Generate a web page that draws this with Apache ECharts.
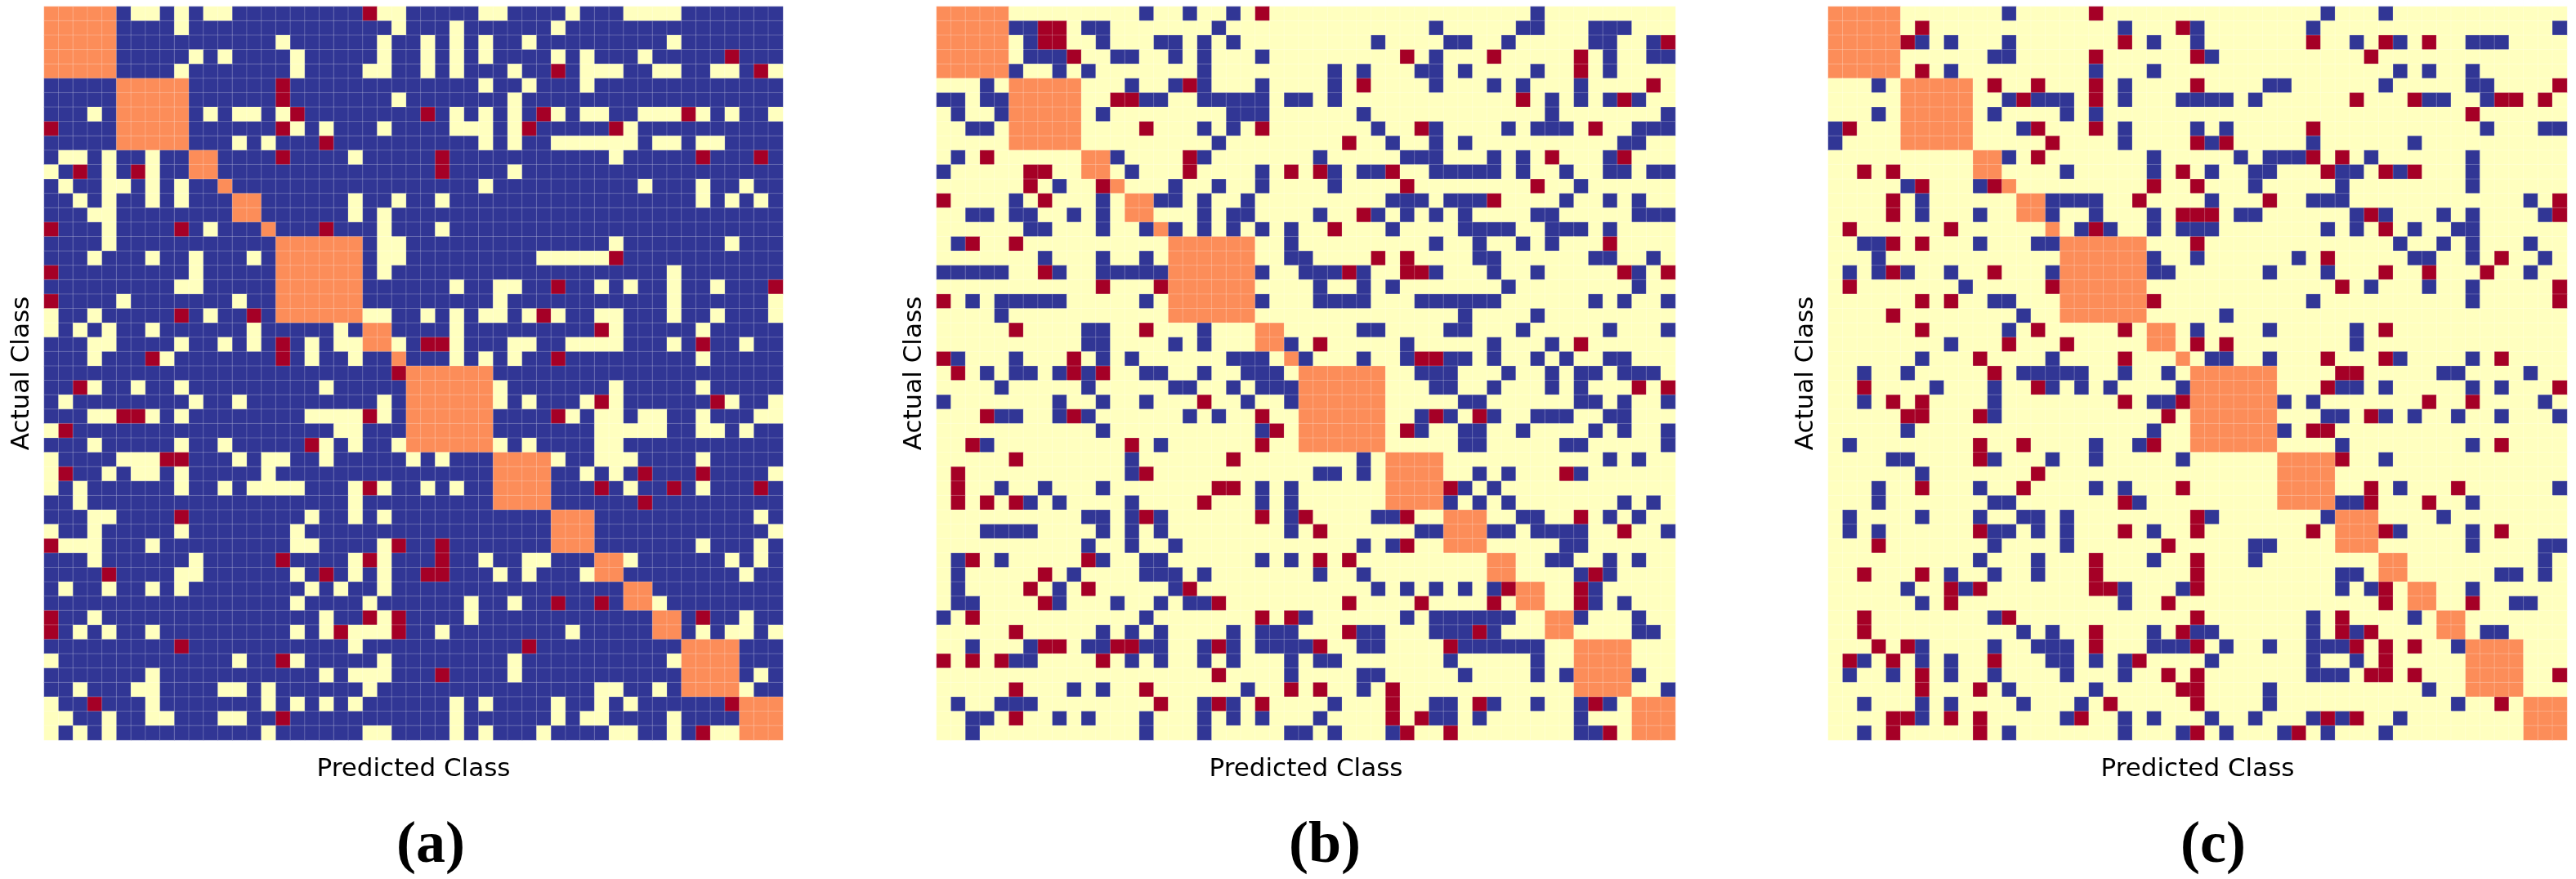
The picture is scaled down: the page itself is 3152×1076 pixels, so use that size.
<!DOCTYPE html>
<html><head><meta charset="utf-8">
<style>html,body{margin:0;padding:0;background:#fff}#c{width:3152px;height:1076px}</style>
<script src="https://cdn.jsdelivr.net/npm/echarts@6/dist/echarts.min.js"></script></head>
<body><div id="c"></div><script>
const blockSizes=[5,5,2,1,2,1,6,2,1,6,4,3,2,2,2,4,3];
const panelLetters=['a','b','c'];
const aYellow=[
[6,7,9,11,12,23,24,30,31,36,40,41,42,43],
[9,24,28,35],
[16,23,26,28,30,33,43],
[10,12,17,23,26,28,30,35,37,41],
[9,17,22,23,26,28,32,37,38,39,42,43,46,47,50],
[30,33,37],
[24,32],
[3,11,13,14,16,28,30,32,35,37,38,41,42,43,45,47,50],
[17,19,23,28,29,30,32,40],
[13,15,30,32,35,36,37,38,39,40,42,43,45,46],
[1,2,4,7,21,39],
[0,4,7,32],
[1,4,5,7,9,30,41,45,48],
[2,4,7,9,21,24,27,45,47,49],
[3,4,21,23],
[4,11,23,27],
[4,23,24,39,47],
[3,7,10,14,23,24,34,35,36,37,38],
[10,23,43],
[9,10,28,31,32,38,40,43,46],
[5,13,31,43,50],
[0,3,11,22,23,26,28,30,31,33,35,38,39,43,46,50],
[0,2,4,7,14,20,28,39,45],
[3,4,9,12,14,18,20,21,24,28,32,33,36,37,38,39,43,48],
[3,8,18,21,28,30,32,45],
[],
[3,6,9,19,31,39,45],
[1,10,13,23,31,33,37,39,47,50],
[3,4,7,9,18,19,20,21,23,36,38,39,41,42,45,49,50],
[0,20,21,38,39,40,41,42,45,46,48],
[3,9,12,19,21,24,31,33,38,39],
[0,5,6,7,13,15,16,19,25,27,35,38,39,40,45],
[0,4,6,7,9,15,37,39,50],
[0,2,9,12,14,15,16,17,21,23,26,28,40,45],
[2,21],
[3,4,18,21,23,49],
[0,3,9,17,50],
[1,2,3,7,17,18,23,45,49],
[3,10,21,23,30,33,34,40,47,49],
[9,10,17,21,23,31,33,37,48],
[1,4,7,9,18,20,23],
[17,22,29,32,42],
[3,19,23,29,48],
[2,4,7,17,19,21,22,23,27,36,45,47,48,50],
[21],
[0,13,17,23,32,43],
[7,19,21,22,23,32,49],
[2,6,7,12,13,15,22,38,39,42,48],
[0,7,15,17,19,21,28,30,35,38,40],
[0,1,4,7,8,12,13,28,35,37,38,43],
[0,2,4,15,22,23,28,30,34,39,40,43,46,47]];
const aRed=[
[22],[],[],[47],[35,49],[16],[16],[17,26,34,44],[0,16,33,39],[19],
[16,27,45,49],[2,6,27],[],[],[],[0,9,19],[],[39],[0],[35,50],
[0],[9,14,34],[38],[16,26,27,45],[7,16,35],[24],[2],[38,46],[5,6,22,35],[1],
[18],[8,9],[1,41,45],[22,38,43,49],[41],[9],[],[0,24,27],[16,22,27],[4,19,26,27],
[],[35,38],[0,22,24,45],[0,20,24],[9,33],[16],[27],[],[3,47],[16],[45]];
const bBlue=[
[14,17,20,41],
[5,6,10,11,19,34,40,41,45,46,47],
[6,11,15,16,18,20,30,35,36,39,45,46,49],
[6,7,8,12,13,16,18,22,34,46,49,50],
[5,8,10,18,27,29,33,34,36,41,46],
[3,13,16,18,22,27,34,38,40,44],
[0,1,3,4,14,15,18,19,20,21,22,24,25,27,42,44,46,48],
[1,4,11,20,21,22,29,42,50],
[2,3,18,20,30,34,39,41,42,43,48,49,50],
[19,31,34,36,47,48],
[1,12,18,26,32,33,34,38,40,46],
[0,13,22,27,29,30,34,35,36,37,38,40,43,46,47,49,50],
[8,16,19,22,27,44],
[5,11,15,16,18,21,31,32,33,35,36,37,43,46,48],
[2,3,5,6,9,11,18,20,21,26,30,32,34,36,41,42,48,49,50],
[6,7,11,14,16,18,20,22,24,31,36,37,38,39,42,43,44,46],
[1,24,34,37,40,42],
[7,11,14,24,25,37,38,45,46,49],
[0,1,2,3,4,8,11,12,13,14,15,22,25,26,27,29,34,38,41,48],
[26,29,31,39,48],
[2,4,5,6,7,8,14,22,26,27,28,29,33,34,35,36,37,38,45,47,50],
[4,36,41],
[10,11,18,29,30,35,36,40,46,50],
[10,11,16,18,24,32,38,42],
[1,5,11,13,20,21,22,25,29,32,35,36,38,41,43,46,47],
[3,5,6,8,10,14,15,18,21,22,23,33,34,35,39,42,44,45,47,48,49],
[4,10,16,17,20,22,23,24,34,35,38,42,44],
[0,8,11,14,21,24,36,37,44,45,47,50],
[4,5,8,10,17,19,33,35,38,41,42,43,46,47],
[11,22,33,36,37,40,45,47,50],
[3,15,36,37,43,44,50],
[13,29,46,48],
[13,26,27,29,37,39,44],
[4,7,11,22,24,36,38],
[6,8,13,22,24,35,37,39,47,49],
[10,11,13,15,24,30,31,40,41,46,48],
[3,4,5,6,11,13,15,24,33,34,38,39,41,42,43,44,50],
[10,13,16,29,31,43,44],
[1,4,11,14,15,22,24,42,43,46,48],
[1,9,14,15,16,18,26,29,44,46],
[1,8,16,30,32,34,36,38,45],
[1,2,8,12,15,17,18,45,47],
[0,14,25,32,34,35,36,37,38,39,44,48],
[11,13,15,20,22,23,24,29,30,34,35,36,38,48,49],
[2,6,10,11,14,15,18,20,22,23,24,25,29,30,36,37,38,39,40,41],
[5,6,13,15,18,20,24,26,27,35,41],
[24,29,30,36,41,43,48],
[9,11,21,29,50],
[1,4,5,6,18,20,27,34,35,38,41,44,46],
[2,3,8,10,14,18,20,22,26,34,35,37,44],
[2,14,18,24,25,27,31,44,45]];
const bRed=[
[22],[7,8],[7,8,50],[9,32,38,44],[44],[17,29,49],[12,13,40,47],[],[14,22,33,45],[28],
[3,17,42,47],[6,7,17,24,26,31],[6,11,32,41],[0,7,38],[29],[27],[2,5,46],[30,32],[7,28,32,33,47,50],[11,15],
[0],[],[5,14],[26,44],[0,9,33,34],[1,9,11],[48,50],[18],[3,9,22,34,37],[23,32],
[2,13,22],[5,20],[1,14,43],[1,19,20,35],[1,3,5,18],[14,22,25,32,44],[26,47],[32],[2,10,26,28],[7,45],
[6,10,17,39,44],[7,19,28,33,38,44],[2,22,24],[5,28,37],[7,8,12,13,19,26,35],[0,2,4,11],[19],[5,14,24,26,31],[15,19,22,31,37,45],[5,31,33],[32,35,46]];
const cBlue=[
[12,34,38],
[20,25,33,50],
[6,8,12,22,25,36,39,44,45,46],
[11,12,26],
[8,18,22,39,41,44],
[3,20,30,31,38,44,45],
[12,14,15,16,20,24,25,26,27,29,41,42,45],
[3,11,16,18],
[0,13,20,25,27,45,49,50],
[0,20,26,33,40],
[12,22,28,30,31,32,37,44],
[16,22,26,29,30,35,36,39,44],
[5,10,29,35,44],
[6,15,16,17,18,26,33,34,35,48],
[6,10,15,18,22,28,29,36,38,42,44,49],
[17,19,22,24,25,26,34,36,40,43,44],
[2,3,10,14,15,39,42,44,48],
[3,22,25,32,40,41,44,49],
[1,3,5,8,15,22,23,30,34,48],
[9,37,41,44],
[11,12,33,44],
[13,27],
[12,25,30,36],
[8,36],
[6,15,26,27,30,39,44],
[2,5,13,14,15,16,17,20,23,42,43,48],
[7,11,15,17,19,24,35,36,38,44,46],
[2,11,22,23,31,33,49],
[11,34,35,38,40,43,46,50],
[5,22,31],
[1,18,21,35,44],
[4,5,11,15,18,24,38],
[6],
[3,10,18,20,39,50],
[3,11,12,21,35,36,44],
[1,6,10,13,14,16,26,34,42],
[1,3,11,12,14,16,22,39,44],
[11,16,29,30,44,49,50],
[10,14,22,29,49],
[8,11,14,35,36,46,47,49],
[5,9,20,24,35,37,44],
[6,20,47,48],
[11,33,40],
[13,15,22,25,26,33,36,45,46],
[6,11,14,15,16,22,23,24,27,30,33,34,35,43],
[2,6,8,15,16,18,20,26,33,36],
[1,4,8,11,16,20,33,34,35],
[12,18,30,41],
[2,6,8,13,17,30,43],
[6,16,20,22,26,29,33,35,39],
[2,12,20,24,27,31,34,38]];
const cRed=[
[18],[6,24],[5,20,33,38,41],[18,25,37],[6],[11,14,18,25,50],[13,18,36,40,46,47,49],[44],[1,14,18,33],[15,25,27],
[14,33,35],[2,4,24,34,38,40],[6,11,22,25],[4,21,30,50],[4,24,25,26,37,50],[1,8,18,38],[4,6,25],[34,46],[4,11,38,41,45],[1,15,35,50],
[6,8,22,50],[4],[6,14,20,38],[12,16,25,27],[10,20,34,38,46],[11,35,36],[2,14,34,50],[4,6,20,24,41,44],[5,6,10,23,37],[33,34],
[10,13,22,46],[10,35],[14],[6,13,24,37,43],[20,37,41],[25],[10,20,25,33,38,46],[3,23],[18,25],[2,6,18,25],
[8,10,18,19,25,38],[8,23,38,44],[2,12,25,35],[2,18,24,35,37],[3,5,18,25,36,38,40],[1,4,11,21,38],[6,23,25,37,38,40,50],[6,10,24,25],[19,25,46],[4,5,8,10,17,34,36],[4,10,25,32]];

const BLUE=0,YELLOW=1,ORANGE=2,RED=3;
const n=blockSizes.reduce((a,b)=>a+b,0);
const classes=[];for(let i=0;i<n;i++)classes.push(String(i));
const blockOf=[];blockSizes.forEach((s,b)=>{for(let k=0;k<s;k++)blockOf.push(b)});
function cells(base,markCode,marks,reds){
  const out=[];
  for(let r=0;r<n;r++)for(let c=0;c<n;c++){
    let v=base;
    if(marks[r].includes(c))v=markCode;
    if(reds[r].includes(c))v=RED;
    if(blockOf[r]===blockOf[c])v=ORANGE;
    out.push([c,r,v]);
  }
  return out;
}
const panels=[cells(BLUE,YELLOW,aYellow,aRed),cells(YELLOW,BLUE,bBlue,bRed),cells(YELLOW,BLUE,cBlue,cRed)];
const lefts=[54,1146,2237],tops=8,sizeW=904,sizeH=898;
const font='"DejaVu Sans"';
const option={animation:false,backgroundColor:'#fff',
 visualMap:{show:false,type:'piecewise',dimension:2,seriesIndex:[0,1,2],pieces:[
  {value:BLUE,color:'#313695'},{value:YELLOW,color:'#ffffbf'},{value:ORANGE,color:'#fc8d59'},{value:RED,color:'#a50026'}]},
 grid:lefts.map(l=>({left:l,top:tops,width:sizeW,height:sizeH})),
 xAxis:lefts.map((l,i)=>({gridIndex:i,type:'category',data:classes,name:'Predicted Class',nameLocation:'middle',nameGap:20,
   nameTextStyle:{fontFamily:font,fontSize:31,color:'#000'},axisLine:{show:false},axisTick:{show:false},axisLabel:{show:false},splitLine:{show:false}})),
 yAxis:lefts.map((l,i)=>({gridIndex:i,type:'category',inverse:true,data:classes,name:'Actual Class',nameLocation:'middle',nameGap:12,
   nameTextStyle:{fontFamily:font,fontSize:31,color:'#000'},axisLine:{show:false},axisTick:{show:false},axisLabel:{show:false},splitLine:{show:false}})),
 series:panels.map((d,i)=>({type:'heatmap',xAxisIndex:i,yAxisIndex:i,data:d,progressive:0,
   itemStyle:{borderColor:'rgba(255,255,255,0.22)',borderWidth:1},emphasis:{disabled:true}})),
 title:panelLetters.map((p,i)=>({text:'{p|(}{b|'+p+'}{p|)}',left:lefts[i]+sizeW/2-26,top:995,
   textStyle:{rich:{p:{fontFamily:'"Liberation Serif"',fontSize:72,color:'#000'},b:{fontFamily:'"Liberation Serif"',fontWeight:'bold',fontSize:72,color:'#000'}}}}))
};
echarts.init(document.getElementById('c'),null,{renderer:'canvas'}).setOption(option);
</script></body></html>
